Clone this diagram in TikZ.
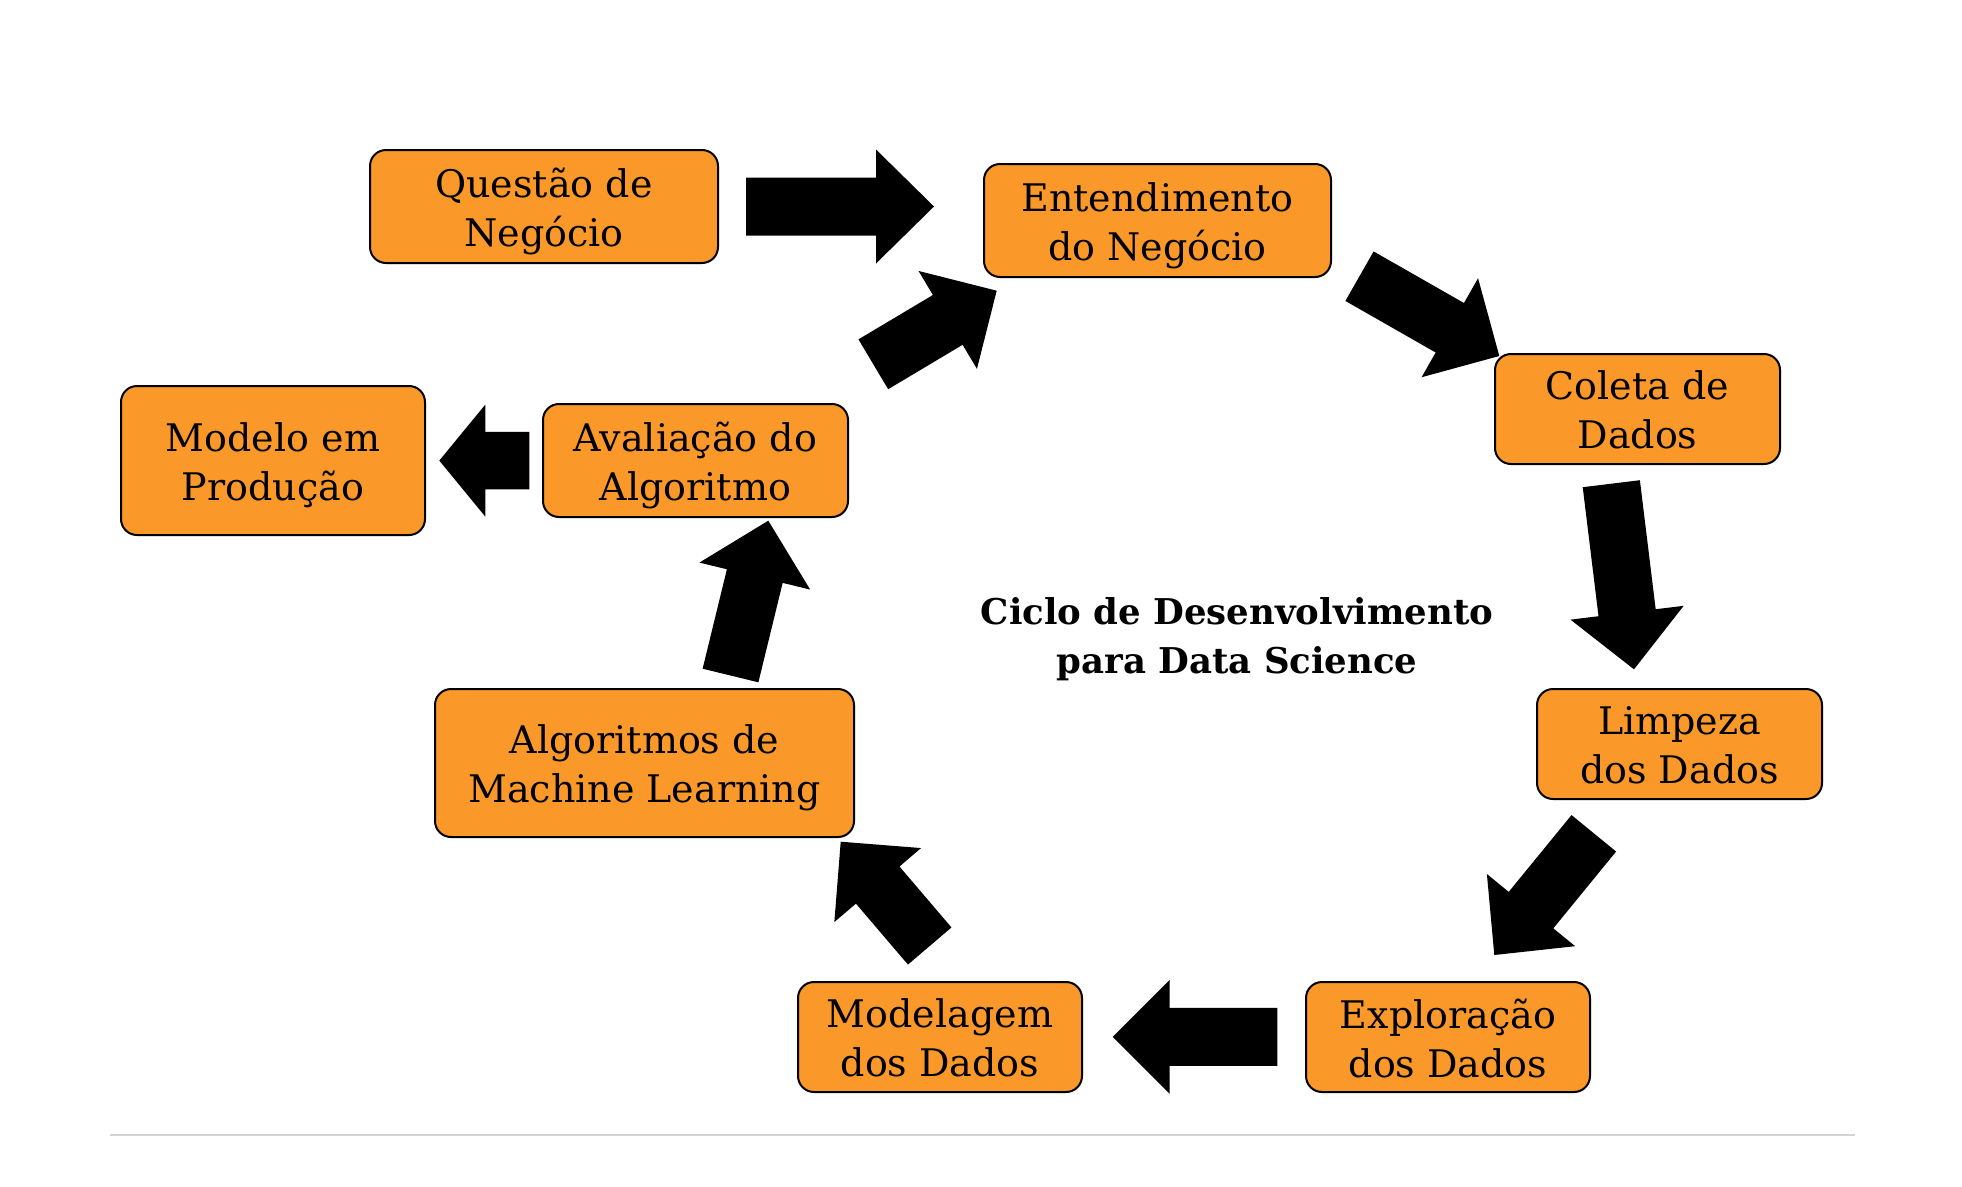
\documentclass[tikz,border=0pt]{standalone}
\usepackage{fontspec}
\setmainfont{DejaVu Serif}
\usetikzlibrary{calc}
\definecolor{boxorange}{RGB}{250,153,42}
\definecolor{rulegray}{RGB}{212,212,212}
\newcommand\dsc{\vphantom{g}}
\newcommand\blockarrow[5]{%
  \coordinate (#1-b) at ($(#2)!#5!(#1)$);
  \fill[arrowfill] ($(#1)!#3!90:(#2)$) -- ($(#1-b)!#3!90:(#2)$) -- ($(#1-b)!#4!90:(#2)$) -- (#2)
    -- ($(#1-b)!#4!-90:(#2)$) -- ($(#1-b)!#3!-90:(#2)$) -- ($(#1)!#3!-90:(#2)$) -- cycle;}
\begin{document}
\begin{tikzpicture}[x=1pt,y=-1pt,
  stagebox/.style={draw=black, line width=2pt, fill=boxorange, rounded corners=16pt,
    inner sep=0pt},
  stagetext/.style={yshift=-5pt, inner sep=0pt, align=center, font=\fontsize{38}{49}\selectfont},
  titletext/.style={align=center, font=\bfseries\fontsize{35.5}{49}\selectfont},
  arrowfill/.style={fill=black}]
\useasboundingbox (0,0) rectangle (1962,1186);
\fill[white] (0,0) rectangle (1962,1186);

\node[stagebox, minimum width=348pt, minimum height=113pt,
  label={[stagetext]center:Questão de\\Negócio\dsc}] (q) at (544,206.5) {};
\node[stagebox, minimum width=347pt, minimum height=113pt,
  label={[stagetext]center:Entendimento\\do Negócio\dsc}] (e) at (1157.5,220.5) {};
\node[stagebox, minimum width=285pt, minimum height=110pt,
  label={[stagetext]center:Coleta de\\Dados\dsc}] (c) at (1637.5,409) {};
\node[stagebox, minimum width=285pt, minimum height=110pt,
  label={[stagetext]center:Limpeza\\dos Dados\dsc}] (l) at (1679.5,744) {};
\node[stagebox, minimum width=284pt, minimum height=110pt,
  label={[stagetext]center:Exploração\\dos Dados\dsc}] (x) at (1448,1037) {};
\node[stagebox, minimum width=284pt, minimum height=110pt,
  label={[stagetext]center:Modelagem\\dos Dados\dsc}] (mg) at (940,1037) {};
\node[stagebox, minimum width=419pt, minimum height=148pt,
  label={[stagetext]center:Algoritmos de\\Machine Learning\dsc}] (a) at (644.5,763) {};
\node[stagebox, minimum width=305pt, minimum height=113pt,
  label={[stagetext]center:Avaliação do\\Algoritmo\dsc}] (av) at (695.5,460.5) {};
\node[stagebox, minimum width=304pt, minimum height=149pt,
  label={[stagetext]center:Modelo em\\Produção\dsc}] (mo) at (273,460.5) {};

\node[titletext] (title) at (1237,639) {Ciclo de Desenvolvimento\\para Data Science};

% arrow end points
\coordinate (t1) at (746,206.5);   \coordinate (h1) at (934,206.5);
\coordinate (t2) at (873.3,364.3); \coordinate (h2) at (996.7,290.7);
\coordinate (t3) at (1359.5,276.2);\coordinate (h3) at (1499.3,356);
\coordinate (t4) at (1611.3,483.7);\coordinate (h4) at (1634,669.3);
\coordinate (t5) at (1593.8,833.3);\coordinate (h5) at (1494.3,955);
\coordinate (t6) at (1277.3,1036.8);\coordinate (h6) at (1112.7,1036.8);
\coordinate (t7) at (929.7,946);   \coordinate (h7) at (840.7,841.7);
\coordinate (t8) at (730.5,675.5); \coordinate (h8) at (768.3,520.7);
\coordinate (t9) at (529.3,460.6); \coordinate (h9) at (439.3,460.6);

\blockarrow{t1}{h1}{29pt}{57pt}{58pt}
\blockarrow{t2}{h2}{29pt}{57pt}{57pt}
\blockarrow{t3}{h3}{28.5pt}{57pt}{57pt}
\blockarrow{t4}{h4}{28.8pt}{57pt}{57pt}
\blockarrow{t5}{h5}{28.8pt}{57pt}{58pt}
\blockarrow{t6}{h6}{29pt}{57pt}{57pt}
\blockarrow{t7}{h7}{28.6pt}{57pt}{57pt}
\blockarrow{t8}{h8}{28.7pt}{57pt}{57pt}
\blockarrow{t9}{h9}{28.8pt}{56pt}{46pt}

\coordinate (r1) at (110,1135);
\coordinate (r2) at (1855,1135);
\draw[rulegray, line width=2.5pt] (r1) -- (r2);
\end{tikzpicture}
\end{document}
